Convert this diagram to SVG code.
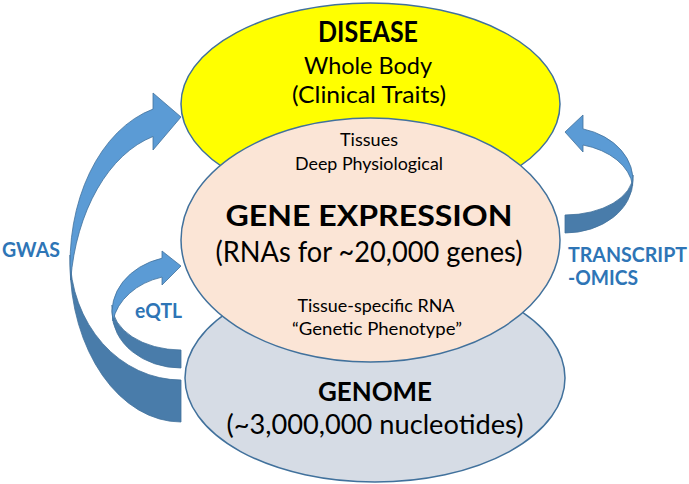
<svg xmlns="http://www.w3.org/2000/svg" width="689" height="484" viewBox="0 0 689 484">
<style>
.ell{stroke:#41719C;stroke-width:1.5}
.lt{fill:#5B9BD5;stroke:#41719C;stroke-width:0.8}
.dk{fill:#497CAA;stroke:#41719C;stroke-width:0.8}
text{font-family:Lato,"Open Sans","DejaVu Sans",sans-serif;text-anchor:middle;fill:#000}
.b{font-weight:bold}
.lab{font-weight:bold;fill:#2E75B6;text-anchor:start;font-size:20px}
</style>
<rect width="689" height="484" fill="#fff"/>
<g id="disease">
<ellipse class="ell" cx="370.5" cy="104" rx="189.5" ry="101" fill="#FFFF00"/>
</g>
<g id="genome">
<ellipse class="ell" cx="375" cy="378" rx="190" ry="104" fill="#D6DCE5"/>
</g>
<g id="gene-expression">
<ellipse class="ell" cx="370.5" cy="240" rx="189.5" ry="122" fill="#FBE5D6"/>
</g>
<g id="disease-text">
<text class="b" x="368" y="42" font-size="28" textLength="100" lengthAdjust="spacingAndGlyphs">DISEASE</text>
<text x="368" y="74" font-size="24" textLength="128" lengthAdjust="spacingAndGlyphs">Whole Body</text>
<text x="369" y="103" font-size="24" textLength="154" lengthAdjust="spacingAndGlyphs">(Clinical Traits)</text>
</g>
<g id="gene-expression-text">
<text x="369" y="146" font-size="18" textLength="58" lengthAdjust="spacingAndGlyphs">Tissues</text>
<text x="369" y="170" font-size="18" textLength="148" lengthAdjust="spacingAndGlyphs">Deep Physiological</text>
<text class="b" x="369" y="226" font-size="29" textLength="287" lengthAdjust="spacingAndGlyphs">GENE EXPRESSION</text>
<text x="369" y="262" font-size="29" textLength="307" lengthAdjust="spacingAndGlyphs">(RNAs for ~20,000 genes)</text>
<text x="376" y="312" font-size="18" textLength="157" lengthAdjust="spacingAndGlyphs">Tissue-specific RNA</text>
<text x="377" y="335" font-size="18" textLength="170" lengthAdjust="spacingAndGlyphs">“Genetic Phenotype”</text>
</g>
<g id="genome-text">
<text class="b" x="375" y="401" font-size="27" textLength="114" lengthAdjust="spacingAndGlyphs">GENOME</text>
<text x="375" y="434" font-size="27" textLength="297" lengthAdjust="spacingAndGlyphs">(~3,000,000 nucleotides)</text>
</g>
<g id="connectors">
<g id="gwas-arrow">
<path class="dk" d="M70,255 L70,263 A111,159 0 0 0 181,422 L181,380 A111,125 0 0 1 70,255 Z"/>
<path class="lt" d="M153,136.5 A111,169 0 0 0 70.7,280 A111,159 0 0 1 153,109.1 L153,93 L181,117 L153,150 Z"/>
</g>
<g id="eqtl-arrow">
<path class="dk" d="M112,305 L112,312 A69,56 0 0 0 181,368 L181,350 A69,45 0 0 1 112,305 Z"/>
<path class="lt" d="M162,277.1 A69,55 0 0 0 112.9,321 A69,56 0 0 1 162,258.2 L162,251 L181,266 L162,285 Z"/>
</g>
<g id="transcriptomics-arrow">
<path class="dk" d="M633,175 L633,180 A68,53 0 0 1 565,233 L565,215 A68,40 0 0 0 633,175 Z"/>
<path class="lt" d="M583,145 A68,46.7 0 0 1 632.6,185.5 A68,53 0 0 0 583,128.9 L583,115 L565,132 L583,152 Z"/>
</g>
</g>
<g id="labels">
<text class="lab" x="2" y="257" textLength="58" lengthAdjust="spacingAndGlyphs">GWAS</text>
<text class="lab" x="135" y="318" textLength="47" lengthAdjust="spacingAndGlyphs">eQTL</text>
<text class="lab" x="568" y="262" textLength="119" lengthAdjust="spacingAndGlyphs">TRANSCRIPT</text>
<text class="lab" x="568" y="285" textLength="70" lengthAdjust="spacingAndGlyphs">-OMICS</text>
</g>
</svg>
